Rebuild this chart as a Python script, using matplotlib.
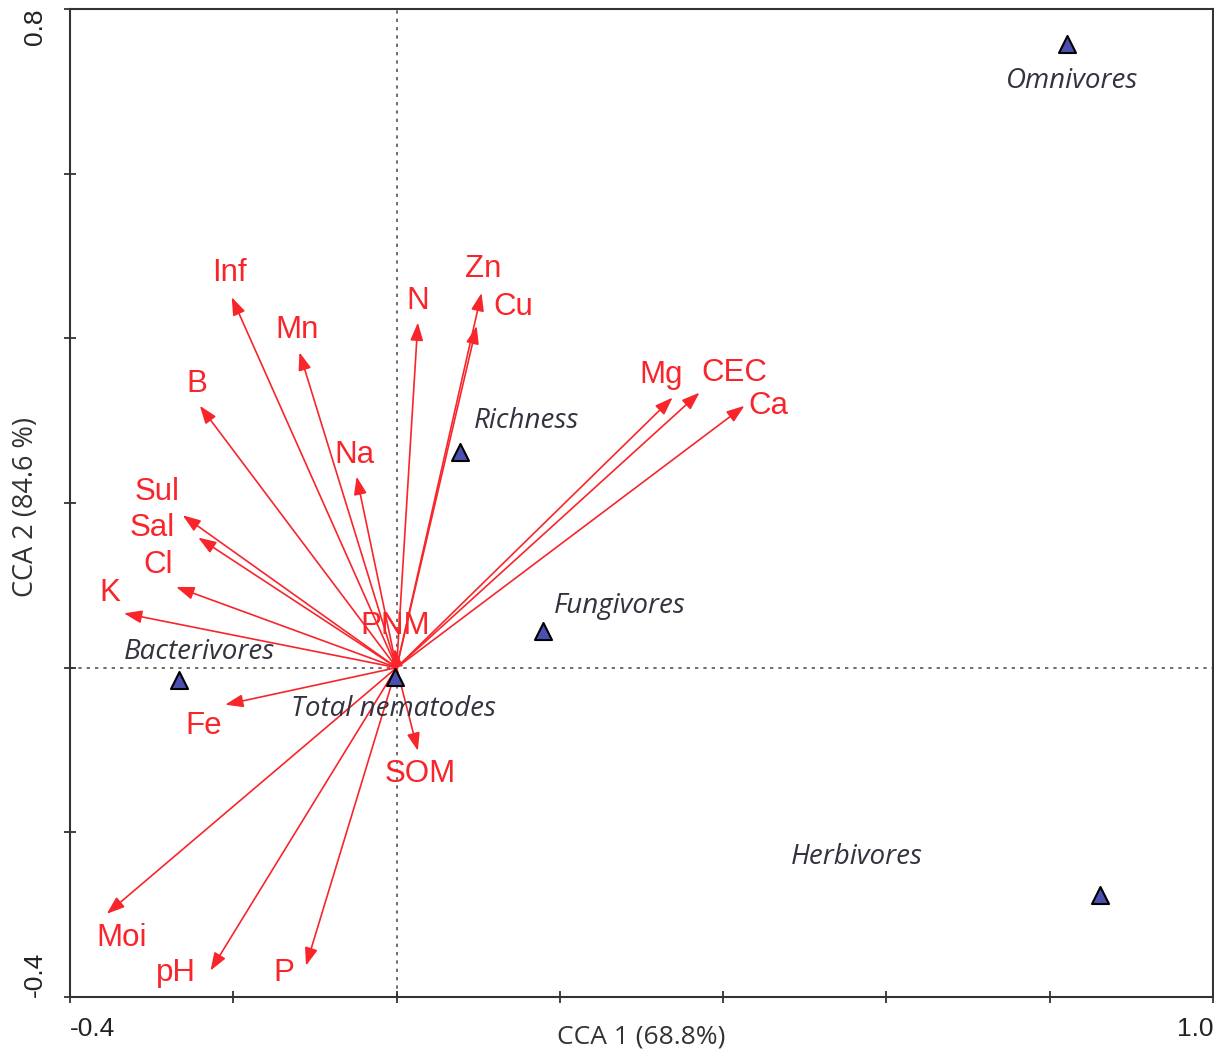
import matplotlib.pyplot as plt
import numpy as np

# Environmental vectors (CCA biplot scores)
env_names = ['Inf', 'Mn', 'N', 'Zn', 'Cu', 'Mg', 'CEC', 'Ca', 'B', 'Na',
             'Sul', 'Sal', 'Cl', 'K', 'PNM', 'Fe', 'SOM', 'Moi', 'pH', 'P']
env_x = [-0.202, -0.119, 0.026, 0.104, 0.098, 0.338, 0.371, 0.426, -0.241, -0.049,
         -0.262, -0.243, -0.270, -0.334, -0.002, -0.210, 0.026, -0.355, -0.228, -0.111]
env_y = [0.450, 0.383, 0.419, 0.455, 0.415, 0.328, 0.334, 0.318, 0.318, 0.232,
         0.185, 0.158, 0.098, 0.066, 0.023, -0.045, -0.101, -0.299, -0.368, -0.362]

# Nematode groups
grp_names = ['Omnivores', 'Richness', 'Fungivores', 'Bacterivores',
             'Total nematodes', 'Herbivores']
grp_x = [0.821, 0.078, 0.179, -0.267, -0.002, 0.861]
grp_y = [0.758, 0.262, 0.044, -0.015, -0.011, -0.276]

# label placement, pixels relative to the point (x right, y up)
env_off = {'Inf': (-2, 24), 'Mn': (-2, 22), 'N': (0, 22), 'Zn': (2, 24),
           'Cu': (37, 19), 'Mg': (-11, 23), 'CEC': (35, 20), 'Ca': (24, 0),
           'B': (-3, 22), 'Na': (-2, 22), 'Sul': (-26, 23), 'Sal': (-46, 10),
           'Cl': (-18, 22), 'K': (-14, 20), 'PNM': (0, 23), 'Fe': (-21, -21),
           'SOM': (2, -23), 'Moi': (15, -24), 'pH': (-35, -2), 'P': (-22, -7)}
grp_off = {'Omnivores': (5, -37), 'Richness': (66, 31), 'Fungivores': (77, 25),
           'Bacterivores': (21, 28), 'Total nematodes': (-1, -32),
           'Herbivores': (-243, 38)}

red = '#f8252b'

fig = plt.figure(figsize=(12.14, 10.55), dpi=100)
ax = fig.add_axes([0.0577, 0.055, 0.9415, 0.9365])
ax.set_xlim(-0.4, 1.0)
ax.set_ylim(-0.4, 0.8)

ax.axhline(0, color='#555555', ls=(0, (2, 3)), lw=1.2, zorder=1)
ax.axvline(0, color='#555555', ls=(0, (2, 3)), lw=1.2, zorder=1)

for name, x, y in zip(env_names, env_x, env_y):
    ax.annotate('', xy=(x, y), xytext=(0, 0),
                arrowprops=dict(arrowstyle='-|>,head_length=0.72,head_width=0.26',
                                color=red, lw=1.2, mutation_scale=15,
                                shrinkA=0, shrinkB=0),
                zorder=3)
    ax.annotate(name, xy=(x, y), xytext=env_off[name], textcoords='offset pixels',
                ha='center', va='center', color=red, fontsize=22.5,
                family='Liberation Sans', zorder=4)

ax.scatter(grp_x, grp_y, marker='^', s=150, color='#4b4fb0',
           edgecolor='black', linewidth=1.5, zorder=5)
for name, x, y in zip(grp_names, grp_x, grp_y):
    ax.annotate(name, xy=(x, y), xytext=grp_off[name], textcoords='offset pixels',
                ha='center', va='center', color='#333340', fontsize=20,
                family='Open Sans', style='italic', zorder=6)

ax.set_xticks(np.arange(-0.4, 1.01, 0.2))
ax.set_yticks(np.arange(-0.4, 0.81, 0.2))
ax.set_xticklabels(['-0.4', '', '', '', '', '', '', '1.0'])
ax.set_yticklabels(['-0.4', '', '', '', '', '', '0.8'])
ax.tick_params(direction='inout', length=9, width=1.2, labelsize=19,
               colors='#222222')
ax.tick_params(axis='x', pad=10)
ax.tick_params(axis='y', pad=12)

xt = ax.get_xticklabels()
xt[0].set_ha('left')
xt[-1].set_ha('right')
for lbl in xt:
    lbl.set_family('Liberation Sans')
yt = ax.get_yticklabels()
for lbl in yt:
    lbl.set_rotation(90)
    lbl.set_family('Liberation Sans')
yt[0].set_va('bottom')
yt[-1].set_va('top')
# nudge the end labels inside the axis span
yt[0].set_y(-0.385)
yt[-1].set_y(0.785)

for sp in ax.spines.values():
    sp.set_color('#333333')
    sp.set_linewidth(1.5)

ax.set_xlabel('CCA 1 (68.8%)', fontsize=19, color='#333333',
              family='Open Sans', va='center')
ax.xaxis.set_label_coords(0.5, -0.0405)
ax.set_ylabel('CCA 2 (84.6 %)', fontsize=19.5, color='#333333',
              family='Open Sans', va='center')
ax.yaxis.set_label_coords(-0.0385, 0.496)

fig.savefig('out.png', dpi=100)
